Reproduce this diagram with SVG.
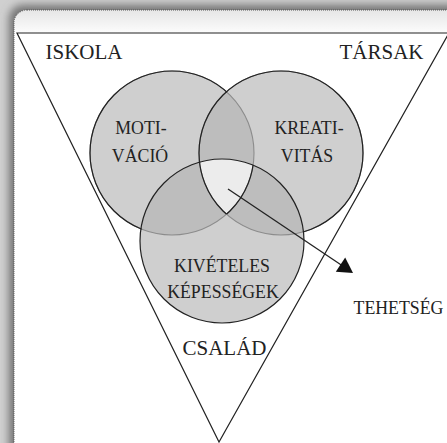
<svg xmlns="http://www.w3.org/2000/svg" width="447" height="443" viewBox="0 0 447 443">
<defs>
  <filter id="blur" x="-10%" y="-10%" width="120%" height="120%"><feGaussianBlur stdDeviation="4"/></filter>
  <linearGradient id="topfade" x1="0" y1="0" x2="0" y2="1">
    <stop offset="0" stop-color="#e6e6e6"/>
    <stop offset="1" stop-color="#ffffff"/>
  </linearGradient>
  <clipPath id="card"><rect x="14" y="10" width="460" height="460" rx="13"/></clipPath>
  <clipPath id="cL"><circle cx="172" cy="153" r="82"/></clipPath>
  <clipPath id="cR"><circle cx="281" cy="153" r="82"/></clipPath>
  <clipPath id="cB"><circle cx="222" cy="241" r="82"/></clipPath>
  <mask id="notRB" maskUnits="userSpaceOnUse" x="0" y="0" width="447" height="443">
    <rect x="0" y="0" width="447" height="443" fill="#fff"/>
    <circle cx="281" cy="153" r="81.4" fill="#000"/>
    <circle cx="222" cy="241" r="81.4" fill="#000"/>
  </mask>
  <mask id="notB" maskUnits="userSpaceOnUse" x="0" y="0" width="447" height="443">
    <rect x="0" y="0" width="447" height="443" fill="#fff"/>
    <circle cx="222" cy="241" r="81.4" fill="#000"/>
  </mask>
  <style>
    .lbl{font-family:"Liberation Serif","Times New Roman",serif;fill:#222;text-anchor:middle}
    .big{font-size:21px}
    .sm{font-size:17.8px}
    .fill1{fill:#cfcfcf}
    .fill2{fill:#bdbdbd}
    .fill3{fill:#ececec}
    .dk{fill:none;stroke:#222;stroke-width:1.2}
    .lt{fill:none;stroke:#8c8c8c;stroke-width:1.1}
  </style>
</defs>

<!-- page background and card -->
<rect x="0" y="0" width="447" height="443" fill="#d0d0d0"/>
<rect x="9" y="5" width="470" height="470" rx="14" fill="#727272" filter="url(#blur)"/>
<rect x="14" y="10" width="460" height="460" rx="13" fill="#fff"/>
<rect x="14" y="10" width="460" height="26" fill="url(#topfade)" clip-path="url(#card)"/>
<rect x="14" y="10" width="460" height="460" rx="13" fill="none" stroke="#555" stroke-width="1" stroke-dasharray="1 1"/>

<!-- triangle -->
<g id="triangle">
  <polygon points="17,33 449,33 219,442" fill="#fff" stroke="#222" stroke-width="1.2" stroke-linejoin="miter"/>
</g>

<!-- venn circles -->
<g id="venn">
  <circle class="fill1" cx="172" cy="153" r="82"/>
  <circle class="fill1" cx="281" cy="153" r="82"/>
  <circle class="fill1" cx="222" cy="241" r="82"/>
  <circle class="fill2" cx="281" cy="153" r="82" clip-path="url(#cL)"/>
  <circle class="fill2" cx="222" cy="241" r="82" clip-path="url(#cL)"/>
  <circle class="fill2" cx="222" cy="241" r="82" clip-path="url(#cR)"/>
  <g clip-path="url(#cR)"><circle class="fill3" cx="222" cy="241" r="82" clip-path="url(#cL)"/></g>
  <circle class="lt" cx="172" cy="153" r="82"/>
  <circle class="lt" cx="281" cy="153" r="82"/>
  <circle class="dk" cx="172" cy="153" r="82" mask="url(#notRB)"/>
  <circle class="dk" cx="281" cy="153" r="82" mask="url(#notB)"/>
  <circle class="dk" cx="222" cy="241" r="82"/>
  <g clip-path="url(#cB)"><circle class="dk" cx="172" cy="153" r="82" clip-path="url(#cR)"/></g>
  <g clip-path="url(#cB)"><circle class="dk" cx="281" cy="153" r="82" clip-path="url(#cL)"/></g>
</g>

<g id="motivacio">
  <text class="lbl sm" x="141" y="134">MOTI-</text>
  <text class="lbl sm" x="140" y="162">VÁCIÓ</text>
</g>
<g id="kreativitas">
  <text class="lbl sm" x="309" y="134">KREATI-</text>
  <text class="lbl sm" x="307" y="162">VITÁS</text>
</g>
<g id="kepessegek">
  <text class="lbl sm" x="222" y="272">KIVÉTELES</text>
  <text class="lbl sm" x="223" y="298">KÉPESSÉGEK</text>
</g>
<g id="iskola"><text class="lbl big" x="84" y="59">ISKOLA</text></g>
<g id="tarsak"><text class="lbl big" x="381.5" y="59">TÁRSAK</text></g>
<g id="csalad"><text class="lbl big" x="224.5" y="355">CSALÁD</text></g>
<g id="tehetseg"><text class="lbl sm" x="398.5" y="314">TEHETSÉG</text></g>

<g id="connectors">
  <line x1="228" y1="189" x2="342" y2="265.5" stroke="#222" stroke-width="1.3"/>
  <polygon points="353,273 345.2,257.5 335.8,271.7" fill="#111"/>
</g>
</svg>
